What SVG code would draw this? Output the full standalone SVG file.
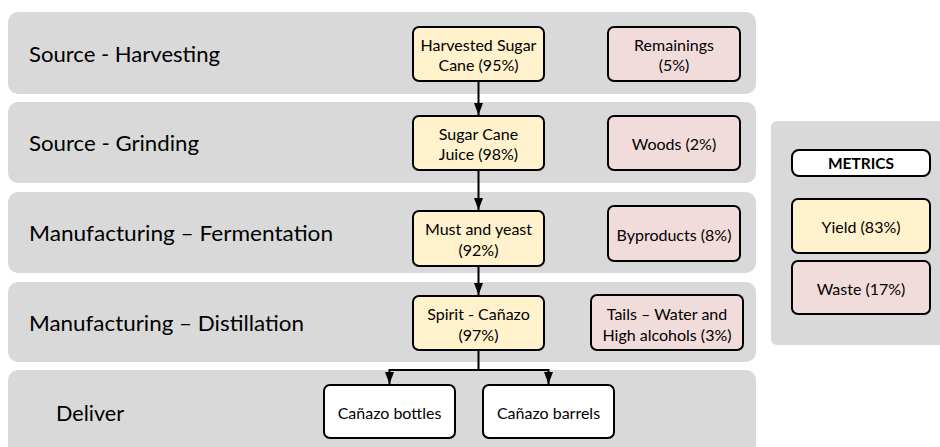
<svg xmlns="http://www.w3.org/2000/svg" width="940" height="447" viewBox="0 0 940 447">
<style>
.band{fill:#d9d9d9}
.lbl{font-family:Lato,"Liberation Sans",sans-serif;font-size:21px;fill:#000;dominant-baseline:central}
.node{stroke:#000;stroke-width:2}
.y{fill:#fff2cc}
.p{fill:#f2dcdb}
.w{fill:#fff}
.t{font-family:Lato,"Liberation Sans",sans-serif;font-size:16px;fill:#000;text-anchor:middle;dominant-baseline:central}
.b{font-weight:bold;font-size:15.5px}
.c{fill:none;stroke:#000;stroke-width:2}
</style>
<defs>
<marker id="ah" viewBox="0 0 12 9" refX="12" refY="4.5" markerWidth="6" markerHeight="4.5" orient="auto" markerUnits="strokeWidth">
<path d="M0,0 L12,4.5 L0,9 Z" fill="#000"/>
</marker>
</defs>
<rect width="940" height="447" fill="#fff"/>
<g id="lanes">
<g id="lane-harvesting"><rect class="band" x="8" y="12" width="748" height="82" rx="10"/><text class="lbl" x="29" y="53" textLength="191" lengthAdjust="spacingAndGlyphs">Source - Harvesting</text></g>
<g id="lane-grinding"><rect class="band" x="8" y="102" width="748" height="81" rx="10"/><text class="lbl" x="29" y="142.5" textLength="170" lengthAdjust="spacingAndGlyphs">Source - Grinding</text></g>
<g id="lane-fermentation"><rect class="band" x="8" y="192" width="748" height="81" rx="10"/><text class="lbl" x="29" y="232.5" textLength="304" lengthAdjust="spacingAndGlyphs">Manufacturing – Fermentation</text></g>
<g id="lane-distillation"><rect class="band" x="8" y="282" width="748" height="80" rx="10"/><text class="lbl" x="29" y="322" textLength="275" lengthAdjust="spacingAndGlyphs">Manufacturing – Distillation</text></g>
<g id="lane-deliver"><rect class="band" x="8" y="370" width="748" height="90" rx="10"/><text class="lbl" x="56" y="412" textLength="68" lengthAdjust="spacingAndGlyphs">Deliver</text></g>
</g>
<g id="metrics-panel">
<rect class="band" x="771" y="121" width="180" height="224" rx="6"/>
</g>
<g id="connectors">
<path class="c" d="M478.5,81 V115" marker-end="url(#ah)"/>
<path class="c" d="M478.5,170 V210" marker-end="url(#ah)"/>
<path class="c" d="M478.5,266 V295" marker-end="url(#ah)"/>
<path class="c" d="M478.5,350 V370"/>
<path class="c" d="M389.5,370 H548.5"/>
<path class="c" d="M389.5,369 V384" marker-end="url(#ah)"/>
<path class="c" d="M548.5,369 V384" marker-end="url(#ah)"/>
</g>
<g id="harvested-sugar-cane"><rect class="node y" x="413" y="27" width="131" height="54" rx="6"/><text class="t" x="478.5" y="44">Harvested Sugar</text><text class="t" x="478.5" y="64">Cane (95%)</text></g>
<g id="remainings"><rect class="node p" x="608" y="27" width="132" height="54" rx="6"/><text class="t" x="674" y="44">Remainings</text><text class="t" x="674" y="64">(5%)</text></g>
<g id="sugar-cane-juice"><rect class="node y" x="413" y="116" width="131" height="54" rx="6"/><text class="t" x="478.5" y="133">Sugar Cane</text><text class="t" x="478.5" y="153">Juice (98%)</text></g>
<g id="woods"><rect class="node p" x="608" y="116" width="132" height="54" rx="6"/><text class="t" x="674" y="143">Woods (2%)</text></g>
<g id="must-and-yeast"><rect class="node y" x="413" y="211" width="131" height="55" rx="6"/><text class="t" x="478.5" y="228">Must and yeast</text><text class="t" x="478.5" y="249">(92%)</text></g>
<g id="byproducts"><rect class="node p" x="608" y="206" width="132" height="55" rx="6"/><text class="t" x="674" y="234">Byproducts (8%)</text></g>
<g id="spirit-canazo"><rect class="node y" x="413" y="296" width="131" height="54" rx="6"/><text class="t" x="478.5" y="313">Spirit - Cañazo</text><text class="t" x="478.5" y="334">(97%)</text></g>
<g id="tails"><rect class="node p" x="591" y="295" width="152" height="55" rx="6"/><text class="t" x="667" y="313">Tails – Water and</text><text class="t" x="667" y="334">High alcohols (3%)</text></g>
<g id="canazo-bottles"><rect class="node w" x="324" y="385" width="131" height="53" rx="6"/><text class="t" x="389.5" y="412">Cañazo bottles</text></g>
<g id="canazo-barrels"><rect class="node w" x="483" y="385" width="131" height="53" rx="6"/><text class="t" x="548.5" y="412">Cañazo barrels</text></g>
<g id="metrics-title"><rect class="node w" x="792" y="150" width="138" height="26" rx="7"/><text class="t b" x="861" y="163">METRICS</text></g>
<g id="yield"><rect class="node y" x="792" y="199" width="138" height="54" rx="6"/><text class="t" x="861" y="226">Yield (83%)</text></g>
<g id="waste"><rect class="node p" x="792" y="261" width="138" height="53" rx="6"/><text class="t" x="861" y="288">Waste (17%)</text></g>
</svg>
